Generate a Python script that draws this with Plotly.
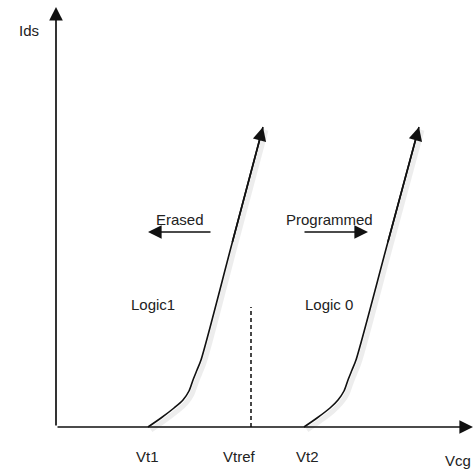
import plotly.graph_objects as go

# Coordinates: Vcg (horizontal) and Ids (vertical), arbitrary diagram units
curve1_vcg = [92, 105, 118, 127, 133, 137, 141, 145, 176, 207]
curve1_ids = [0, 9, 19, 27, 36, 47, 57, 67, 183.5, 300]
curve2_vcg = [248, 261, 274, 282, 288, 292, 296, 300, 331.5, 363]
curve2_ids = [0, 9, 19, 27, 36, 47, 57, 67, 183.5, 300]

vtref_vcg = [195, 195]
vtref_ids = [0, 120]

axis_x_end = 417
axis_y_end = 420

tick_labels = ["Vt1", "Vtref", "Vt2"]
tick_vcg = [91, 183, 251]
tick_ids = [-29, -29, -29]

erased_arrow = {"from": [156, 195], "to": [92, 195]}
programmed_arrow = {"from": [247, 195], "to": [312, 195]}

region_labels = ["Erased", "Programmed", "Logic1", "Logic 0"]
region_vcg = [124, 273, 97, 273]
region_ids = [208, 208, 123, 123]

LINE = "#111111"
TXT = "#222222"
FONT = "Liberation Sans, Arial, sans-serif"

fig = go.Figure()

# Shadows (soft)
for xs, ys in [(curve1_vcg, curve1_ids), (curve2_vcg, curve2_ids)]:
    fig.add_trace(go.Scatter(x=[v + 3 for v in xs], y=[v - 3 for v in ys], mode="lines",
                             line=dict(color="rgba(0,0,0,0.07)", width=5, shape="spline"),
                             hoverinfo="skip", showlegend=False))

fig.add_trace(go.Scatter(x=curve1_vcg, y=curve1_ids, mode="lines",
                         line=dict(color=LINE, width=1.6, shape="spline", smoothing=0.8),
                         showlegend=False))
fig.add_trace(go.Scatter(x=curve2_vcg, y=curve2_ids, mode="lines",
                         line=dict(color=LINE, width=1.6, shape="spline", smoothing=0.8),
                         showlegend=False))
fig.add_trace(go.Scatter(x=vtref_vcg, y=vtref_ids, mode="lines",
                         line=dict(color="#333333", width=1.8, dash="4px,3px"),
                         showlegend=False))

arrows = []
def arrow(x0, y0, x1, y1):
    arrows.append(dict(x=x1, y=y1, ax=x0, ay=y0, xref="x", yref="y", axref="x", ayref="y",
                       text="", showarrow=True, arrowhead=2, arrowsize=1.6, arrowwidth=1.7,
                       arrowcolor=LINE, standoff=0, startstandoff=0))

arrow(0, 0, 0, axis_y_end)
arrow(0, 0, axis_x_end, 0)
arrow(curve1_vcg[-2], curve1_ids[-2], curve1_vcg[-1], curve1_ids[-1])
arrow(curve2_vcg[-2], curve2_ids[-2], curve2_vcg[-1], curve2_ids[-1])
arrow(*erased_arrow["from"], *erased_arrow["to"])
arrow(*programmed_arrow["from"], *programmed_arrow["to"])

texts = []
def label(t, x, y):
    texts.append(dict(x=x, y=y, xref="x", yref="y", text=t, showarrow=False,
                      xanchor="center", yanchor="middle",
                      font=dict(family=FONT, size=15, color=TXT)))

for t, x, y in zip(tick_labels, tick_vcg, tick_ids):
    label(t, x, y)
for t, x, y in zip(region_labels, region_vcg, region_ids):
    label(t, x, y)
label("Vcg", 402, -33)
label("Ids", -27, 397)

fig.update_layout(
    width=476, height=471,
    margin=dict(l=0, r=0, t=0, b=0),
    paper_bgcolor="white", plot_bgcolor="white",
    xaxis=dict(range=[-56, 420], visible=False, fixedrange=True),
    yaxis=dict(range=[-44, 427], visible=False, fixedrange=True),
    annotations=arrows + texts,
    showlegend=False,
)

fig.write_html("out.html", config={"displayModeBar": False},
               post_script="document.body.style.margin='0';document.body.style.overflow='hidden';")
